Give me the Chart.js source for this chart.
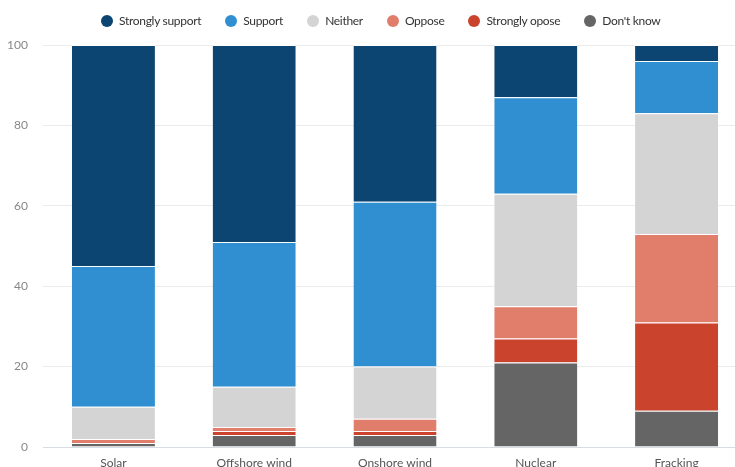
<!DOCTYPE html>
<html>
<head>
<meta charset="utf-8">
<script src="https://cdn.jsdelivr.net/npm/chart.js@4"></script>
<style>
  html, body { margin: 0; padding: 0; background: #fff; overflow: hidden; }
  #wrap { position: relative; width: 747px; height: 471px; }
  #legend { position: absolute; top: 13px; left: 101px; display: flex; font: 12px Lato, sans-serif; letter-spacing: -0.3px; color: #333; line-height: 16px; }
  #legend span.item { display: flex; align-items: center; margin-right: 24px; }
  #legend i { display: inline-block; width: 12px; height: 12px; border-radius: 50%; margin-right: 6px; }
</style>
</head>
<body>
<div id="wrap">
  <div id="legend"></div>
  <canvas id="chart" width="747" height="471"></canvas>
</div>
<script>
const categories = ['Solar', 'Offshore wind', 'Onshore wind', 'Nuclear', 'Fracking']

// stacked bottom to top
const dontKnow = [1, 3, 3, 21, 9]
const stronglyOppose = [0, 1, 1, 6, 22]
const oppose = [1, 1, 3, 8, 22]
const neither = [8, 10, 13, 28, 30]
const support = [35, 36, 41, 24, 13]
const stronglySupport = [55, 49, 39, 13, 4]

const yTicks = [0, 20, 40, 60, 80, 100]

const series = [
	{ label: 'Strongly support', data: stronglySupport, color: '#0c4571' },
	{ label: 'Support', data: support, color: '#2f8fd1' },
	{ label: 'Neither', data: neither, color: '#d4d4d4' },
	{ label: 'Oppose', data: oppose, color: '#e07e6b' },
	{ label: 'Strongly opose', data: stronglyOppose, color: '#c9432d' },
	{ label: "Don't know", data: dontKnow, color: '#656565' }
]

const legend = document.getElementById('legend')
for (const s of series) {
	const item = document.createElement('span')
	item.className = 'item'
	item.innerHTML = '<i style="background:' + s.color + '"></i>' + s.label
	legend.appendChild(item)
}

const font = 'Lato, sans-serif'

new Chart(document.getElementById('chart'), {
	type: 'bar',
	data: {
		labels: categories,
		// reversed so "Don't know" sits at the bottom of each stack
		datasets: series.slice().reverse().map(s => ({
			label: s.label,
			data: s.data,
			backgroundColor: s.color,
			borderColor: '#ffffff',
			borderWidth: { top: 1, bottom: 0, left: 0, right: 0 },
			borderSkipped: false,
			barPercentage: 1,
			categoryPercentage: 0.59
		}))
	},
	options: {
		responsive: false,
		animation: false,
		layout: { padding: { top: 45, bottom: 0, right: 0 } },
		plugins: {
			legend: { display: false },
			tooltip: { enabled: false }
		},
		scales: {
			x: {
				stacked: true,
				afterFit: scale => { scale.height = 24 },
				grid: { display: false, drawTicks: false },
				border: { color: '#d8dde3' },
				ticks: { color: '#555', font: { family: font, size: 12 }, padding: 9 }
			},
			y: {
				stacked: true,
				min: 0,
				max: 100,
				afterFit: scale => { scale.width = 43 },
				afterBuildTicks: scale => { scale.ticks = yTicks.map(v => ({ value: v })) },
				grid: { color: '#ebebeb', drawTicks: false },
				border: { display: false },
				ticks: { color: '#888', font: { family: font, size: 12 }, padding: 15 }
			}
		}
	}
})
</script>
</body>
</html>
